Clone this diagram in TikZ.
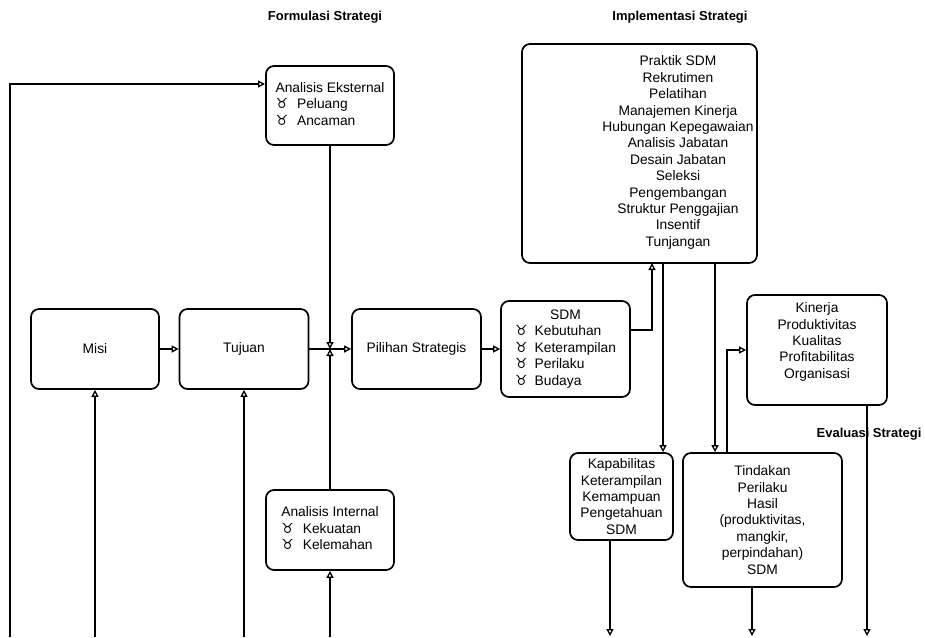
\documentclass[tikz,border=0pt]{standalone}
\usepackage{fontspec}
\setmainfont{Liberation Sans}
\newfontfamily\symf{DejaVu Sans}
\usetikzlibrary{arrows.meta}
\newcommand\bodyf{\fontsize{13.8}{16.4}\selectfont}
\newcommand\titlef{\fontsize{13}{16}\selectfont\bfseries}
\newcommand\bul{{\symf\fontsize{14}{16.4}\selectfont ♉}}
\begin{document}
\begin{tikzpicture}[x=1pt,y=-1pt,
  box/.style={draw, line width=1.7pt, rounded corners=8pt, inner sep=0pt, align=center, font=\bodyf},
  txt/.style={align=center, font=\bodyf, inner sep=0pt},
  ln/.style={line width=1.4pt},
  arr/.style={line width=1.4pt, -{Triangle[open,length=7pt,width=7pt,line width=1.3pt]}},
  ttl/.style={font=\titlef, inner sep=0pt}]
\useasboundingbox (0,0) rectangle (925,637);

% titles
\node[ttl] (t1) at (325,17) {Formulasi Strategi};
\node[ttl] (t2) at (680,17) {Implementasi Strategi};

% boxes
\node[box, minimum width=128pt, minimum height=80pt] (misi) at (95,349) {Misi};
\node[box, minimum width=129pt, minimum height=80pt] (tuj) at (244,349) {Tujuan};
\node[box, minimum width=129pt, minimum height=80pt] (pil) at (416.5,349) {Pilihan Strategis};
\node[box, minimum width=128pt, minimum height=79pt] (ext) at (330,105.5)
  {\begin{tabular}{@{}l@{\hspace{9pt}}l@{}}\multicolumn{2}{@{}l@{}}{Analisis Eksternal}\\ \bul & Peluang\\ \bul & Ancaman\end{tabular}};
\node[box, minimum width=128pt, minimum height=80pt] (int) at (330,530)
  {\begin{tabular}{@{}l@{\hspace{9pt}}l@{}}\multicolumn{2}{@{}l@{}}{Analisis Internal}\\ \bul & Kekuatan\\ \bul & Kelemahan\end{tabular}};
\node[box, minimum width=129pt, minimum height=96pt] (sdm) at (565.5,349)
  {\begin{tabular}{@{}l@{\hspace{7pt}}l@{}}\multicolumn{2}{c}{SDM}\\ \bul & Kebutuhan\\ \bul & Keterampilan\\ \bul & Perilaku\\ \bul & Budaya\end{tabular}};
\node[box, minimum width=235pt, minimum height=219pt] (prak) at (639.5,153.5) {};
\node[txt] (praktxt) at (678,152.5) {Praktik SDM\\ Rekrutimen\\ Pelatihan\\ Manajemen Kinerja\\ Hubungan Kepegawaian\\ Analisis Jabatan\\ Desain Jabatan\\ Seleksi\\ Pengembangan\\ Struktur Penggajian\\ Insentif\\ Tunjangan};
\node[box, minimum width=140pt, minimum height=110pt] (kin) at (817,350) {};
\node[txt] (kintxt) at (817,342) {Kinerja\\ Produktivitas\\ Kualitas\\ Profitabilitas\\ Organisasi};
\node[box, minimum width=103pt, minimum height=87pt] (kap) at (621.5,496.5) {Kapabilitas\\ Keterampilan\\ Kemampuan\\ Pengetahuan\\ SDM};
\node[box, minimum width=159pt, minimum height=134pt] (tind) at (762.5,520) {Tindakan\\ Perilaku\\ Hasil\\ (produktivitas,\\ mangkir,\\ perpindahan)\\ SDM};

\node[ttl] (t3) at (869,434) {Evaluasi Strategi};

% coordinates
\coordinate (j) at (330,349);
\coordinate (fb0) at (10,637);
\coordinate (extin) at (265,84);
\coordinate (misiin) at (95,637);
\coordinate (tujin) at (244,637);
\coordinate (intin) at (330,637);
\coordinate (sdmout) at (630,330);
\coordinate (prakA) at (652,263);
\coordinate (prakB) at (663,263);
\coordinate (prakC) at (715,263);
\coordinate (tindC) at (727,453);
\coordinate (kapout) at (610,540);
\coordinate (kapend) at (610,636);
\coordinate (tindout) at (752,587);
\coordinate (tindend) at (752,636);
\coordinate (kinout) at (867,405);
\coordinate (kinend) at (867,636);

% connectors
\draw[arr] (fb0) |- (extin);
\draw[arr] (misiin) -- (misi);
\draw[arr] (tujin) -- (tuj);
\draw[arr] (intin) -- (int);
\draw[arr] (misi) -- (tuj);
\draw[ln] (tuj) -- (j);
\draw[arr] (j) -- (pil);
\draw[arr] (ext) -- (j);
\draw[arr] (int) -- (j);
\draw[arr] (pil) -- (sdm);
\draw[arr] (sdmout) -| (prakA);
\draw[arr] (prakB) -- (prakB |- kap.north);
\draw[arr] (prakC) -- (prakC |- tind.north);
\draw[arr] (tindC) |- (kin.west);
\draw[arr] (kapout) -- (kapend);
\draw[arr] (tindout) -- (tindend);
\draw[arr] (kinout) -- (kinend);
\end{tikzpicture}
\end{document}
